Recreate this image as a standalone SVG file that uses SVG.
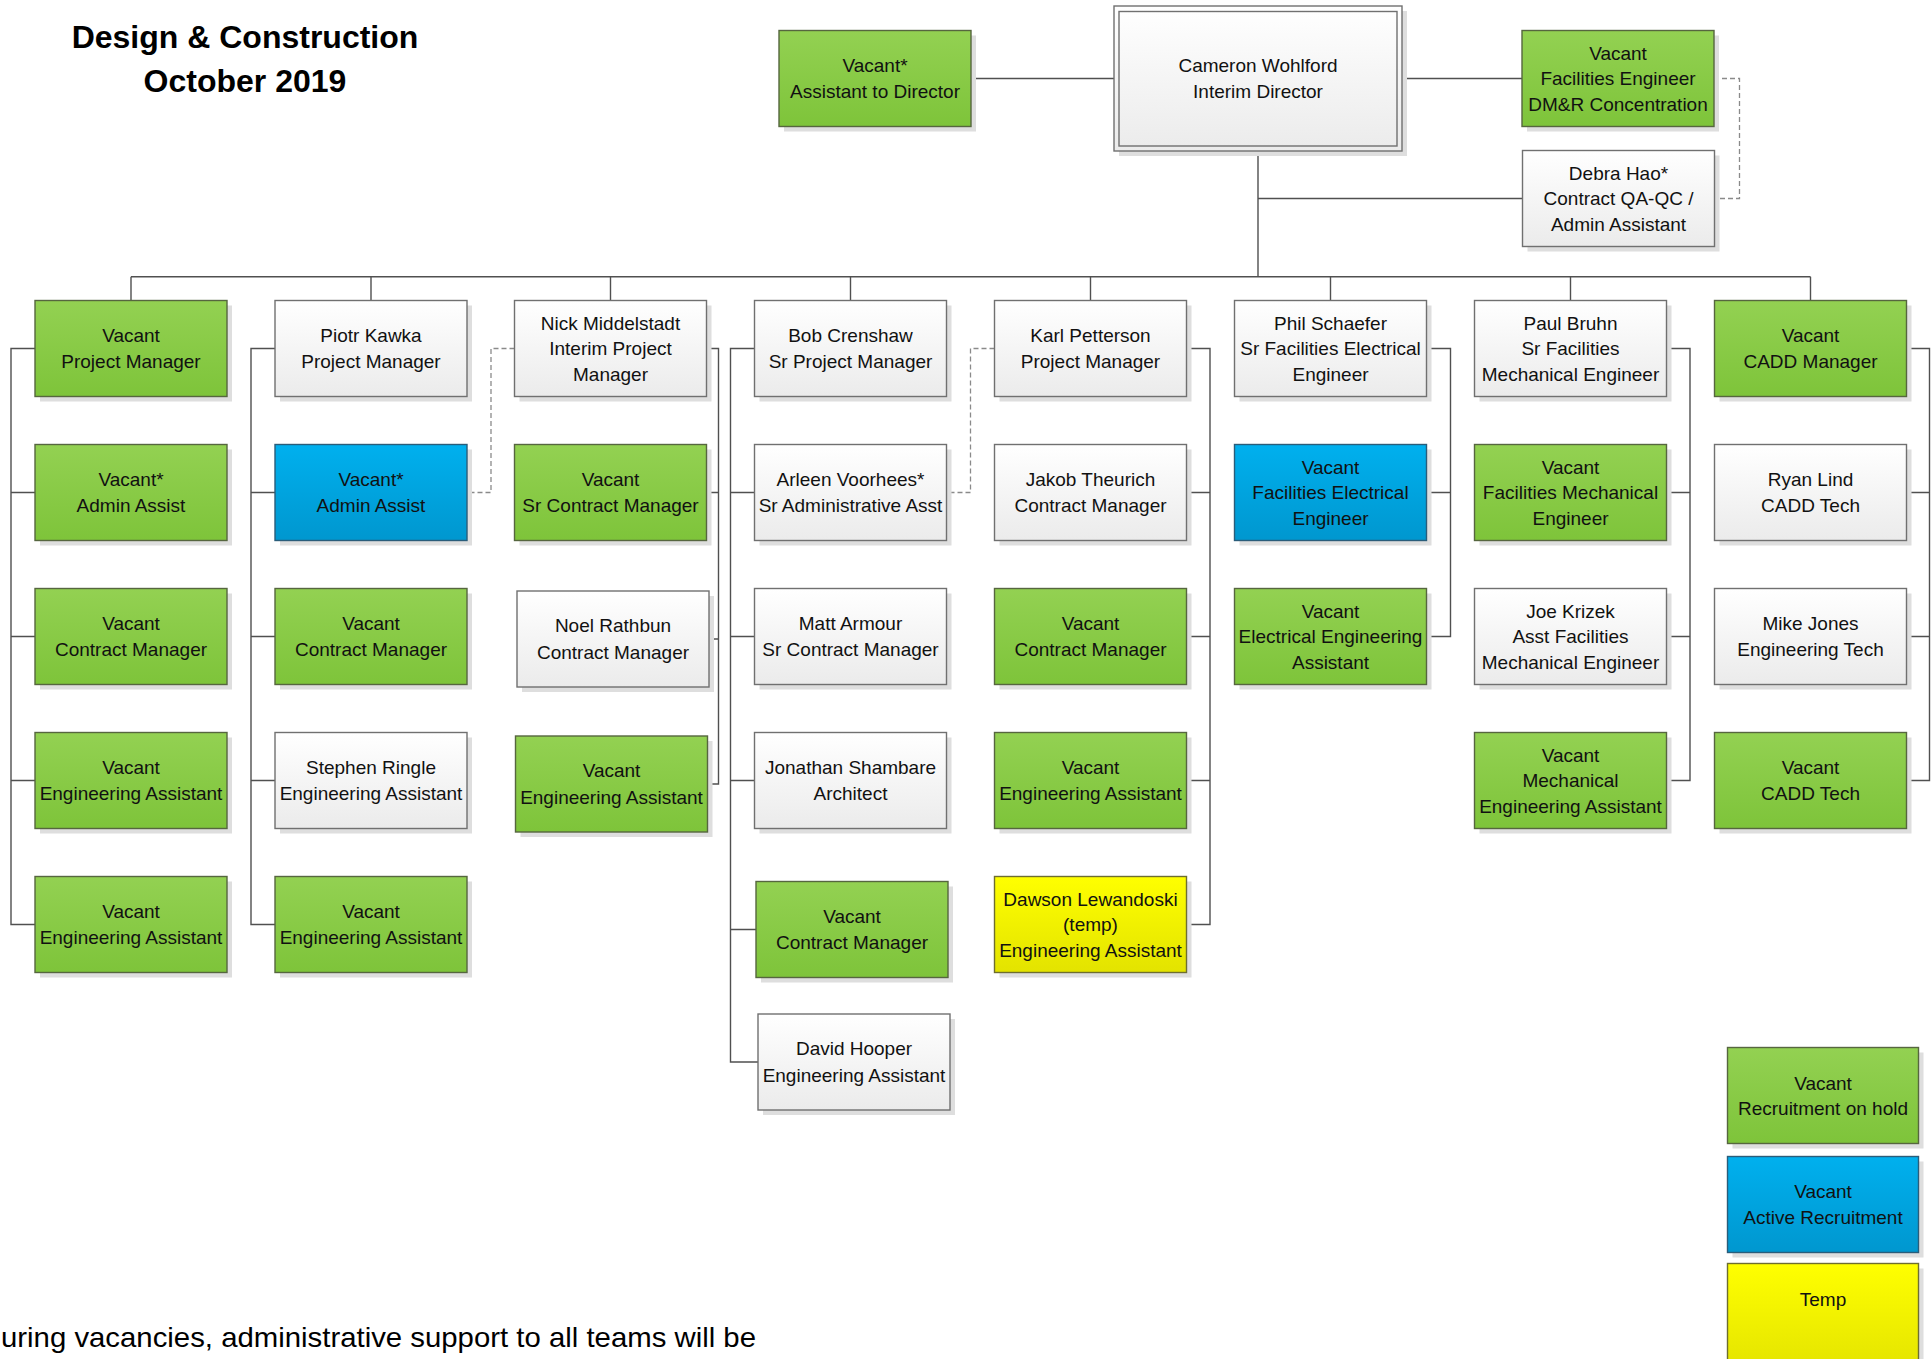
<svg xmlns="http://www.w3.org/2000/svg" width="1932" height="1359" viewBox="0 0 1932 1359">
<defs>
<linearGradient id="gW" x1="0" y1="0" x2="0" y2="1"><stop offset="0" stop-color="#ffffff"/><stop offset="1" stop-color="#ebebeb"/></linearGradient>
<linearGradient id="gG" x1="0" y1="0" x2="0" y2="1"><stop offset="0" stop-color="#93d152"/><stop offset="1" stop-color="#7ec43a"/></linearGradient>
<linearGradient id="gB" x1="0" y1="0" x2="0" y2="1"><stop offset="0" stop-color="#00b0ee"/><stop offset="1" stop-color="#0097cf"/></linearGradient>
<linearGradient id="gY" x1="0" y1="0" x2="0" y2="1"><stop offset="0" stop-color="#ffff00"/><stop offset="1" stop-color="#e3e300"/></linearGradient>
<style>
.sh{fill:#dedede}
.w{fill:url(#gW);stroke:#707070;stroke-width:1.4}
.g{fill:url(#gG);stroke:#56663f;stroke-width:1.4}
.b{fill:url(#gB);stroke:#2a5d7a;stroke-width:1.4}
.y{fill:url(#gY);stroke:#6e6e30;stroke-width:1.4}
.t{font-family:"Liberation Sans",Arial,sans-serif;font-size:19px;fill:#111;text-anchor:middle}
.ttl{font-family:"Liberation Sans",Arial,sans-serif;font-size:32px;font-weight:bold;fill:#000;text-anchor:middle}
.note{font-family:"Liberation Sans",Arial,sans-serif;font-size:28px;fill:#000}
.conn{fill:none;stroke:#505050;stroke-width:1.4}
.dash{fill:none;stroke:#8a8a8a;stroke-width:1.3;stroke-dasharray:5 3}
</style>
</defs>
<rect width="1932" height="1359" fill="#ffffff"/>

<g id="title">
<text class="ttl" x="245" y="48">Design &amp; Construction</text>
<text class="ttl" x="245" y="92">October 2019</text>
</g>

<g id="connectors">
<path class="conn" d="M971 78.5H1114M1402 78.5H1522M1258 151V276.7M1258 198.5H1522.5M131 276.7H1810.5"/>
<path class="conn" d="M131 276.7V300.5M371 276.7V300.5M610.5 276.7V300.5M850.5 276.7V300.5M1090.5 276.7V300.5M1330.5 276.7V300.5M1570.5 276.7V300.5M1810.5 276.7V300.5"/>
<path class="dash" d="M1714 78.5H1739.5V198.5H1714.5"/>
<path class="conn" d="M35 348.5H11V924.5H35M11 492.5H35M11 636.5H35M11 780.5H35"/>
<path class="conn" d="M275 348.5H251V924.5H275M251 492.5H275M251 636.5H275M251 780.5H275"/>
<path class="conn" d="M706.5 348.5H718.5V784H707.5M718.5 492.5H706.5M718.5 639H709"/>
<path class="dash" d="M514.5 348.5H491V492.5H467"/>
<path class="conn" d="M754.5 348.5H730.5V1062H758M730.5 492.5H754.5M730.5 636.5H754.5M730.5 780.5H754.5M730.5 929.5H756"/>
<path class="conn" d="M1186.5 348.5H1210V924.5H1186.5M1210 492.5H1186.5M1210 636.5H1186.5M1210 780.5H1186.5"/>
<path class="dash" d="M994.5 348.5H970.5V492.5H946.5"/>
<path class="conn" d="M1426.5 348.5H1450.5V636.5H1426.5M1450.5 492.5H1426.5"/>
<path class="conn" d="M1666.5 348.5H1690V780.5H1666.5M1690 492.5H1666.5M1690 636.5H1666.5"/>
<path class="conn" d="M1906.5 348.5H1929.5V780.5H1906.5M1929.5 492.5H1906.5M1929.5 636.5H1906.5"/>
</g>

<g id="n-assistant-director"><rect class="sh" x="784" y="35.5" width="192" height="96"/><rect class="g" x="779" y="30.5" width="192" height="96"/><text class="t" x="875" y="71.7">Vacant*</text><text class="t" x="875" y="98.2">Assistant to Director</text></g>
<g id="n-director"><rect class="sh" x="1119" y="11" width="288" height="145"/><rect class="w" x="1114" y="6" width="288" height="145"/><rect fill="none" stroke="#707070" stroke-width="1.4" x="1119" y="11.5" width="278" height="134.5"/><text class="t" x="1258" y="71.7">Cameron Wohlford</text><text class="t" x="1258" y="98.2">Interim Director</text></g>
<g id="n-facilities-engineer"><rect class="sh" x="1527" y="35.5" width="192" height="96"/><rect class="g" x="1522" y="30.5" width="192" height="96"/><text class="t" x="1618" y="59.5">Vacant</text><text class="t" x="1618" y="85">Facilities Engineer</text><text class="t" x="1618" y="110.5">DM&amp;R Concentration</text></g>
<g id="n-debra"><rect class="sh" x="1527.5" y="155.5" width="192" height="96"/><rect class="w" x="1522.5" y="150.5" width="192" height="96"/><text class="t" x="1618.5" y="179.5">Debra Hao*</text><text class="t" x="1618.5" y="205">Contract QA-QC /</text><text class="t" x="1618.5" y="230.5">Admin Assistant</text></g>

<!-- Column 1 -->
<g id="n-c1r1"><rect class="sh" x="40" y="305.5" width="192" height="96"/><rect class="g" x="35" y="300.5" width="192" height="96"/><text class="t" x="131" y="341.7">Vacant</text><text class="t" x="131" y="368.2">Project Manager</text></g>
<g id="n-c1r2"><rect class="sh" x="40" y="449.5" width="192" height="96"/><rect class="g" x="35" y="444.5" width="192" height="96"/><text class="t" x="131" y="485.7">Vacant*</text><text class="t" x="131" y="512.2">Admin Assist</text></g>
<g id="n-c1r3"><rect class="sh" x="40" y="593.5" width="192" height="96"/><rect class="g" x="35" y="588.5" width="192" height="96"/><text class="t" x="131" y="629.7">Vacant</text><text class="t" x="131" y="656.2">Contract Manager</text></g>
<g id="n-c1r4"><rect class="sh" x="40" y="737.5" width="192" height="96"/><rect class="g" x="35" y="732.5" width="192" height="96"/><text class="t" x="131" y="773.7">Vacant</text><text class="t" x="131" y="800.2">Engineering Assistant</text></g>
<g id="n-c1r5"><rect class="sh" x="40" y="881.5" width="192" height="96"/><rect class="g" x="35" y="876.5" width="192" height="96"/><text class="t" x="131" y="917.7">Vacant</text><text class="t" x="131" y="944.2">Engineering Assistant</text></g>

<!-- Column 2 -->
<g id="n-c2r1"><rect class="sh" x="280" y="305.5" width="192" height="96"/><rect class="w" x="275" y="300.5" width="192" height="96"/><text class="t" x="371" y="341.7">Piotr Kawka</text><text class="t" x="371" y="368.2">Project Manager</text></g>
<g id="n-c2r2"><rect class="sh" x="280" y="449.5" width="192" height="96"/><rect class="b" x="275" y="444.5" width="192" height="96"/><text class="t" x="371" y="485.7">Vacant*</text><text class="t" x="371" y="512.2">Admin Assist</text></g>
<g id="n-c2r3"><rect class="sh" x="280" y="593.5" width="192" height="96"/><rect class="g" x="275" y="588.5" width="192" height="96"/><text class="t" x="371" y="629.7">Vacant</text><text class="t" x="371" y="656.2">Contract Manager</text></g>
<g id="n-c2r4"><rect class="sh" x="280" y="737.5" width="192" height="96"/><rect class="w" x="275" y="732.5" width="192" height="96"/><text class="t" x="371" y="773.7">Stephen Ringle</text><text class="t" x="371" y="800.2">Engineering Assistant</text></g>
<g id="n-c2r5"><rect class="sh" x="280" y="881.5" width="192" height="96"/><rect class="g" x="275" y="876.5" width="192" height="96"/><text class="t" x="371" y="917.7">Vacant</text><text class="t" x="371" y="944.2">Engineering Assistant</text></g>

<!-- Column 3 -->
<g id="n-c3r1"><rect class="sh" x="519.5" y="305.5" width="192" height="96"/><rect class="w" x="514.5" y="300.5" width="192" height="96"/><text class="t" x="610.5" y="329.5">Nick Middelstadt</text><text class="t" x="610.5" y="355">Interim Project</text><text class="t" x="610.5" y="380.5">Manager</text></g>
<g id="n-c3r2"><rect class="sh" x="519.5" y="449.5" width="192" height="96"/><rect class="g" x="514.5" y="444.5" width="192" height="96"/><text class="t" x="610.5" y="485.7">Vacant</text><text class="t" x="610.5" y="512.2">Sr Contract Manager</text></g>
<g id="n-c3r3"><rect class="sh" x="522" y="596" width="192" height="96"/><rect class="w" x="517" y="591" width="192" height="96"/><text class="t" x="613" y="632.2">Noel Rathbun</text><text class="t" x="613" y="658.7">Contract Manager</text></g>
<g id="n-c3r4"><rect class="sh" x="520.5" y="741" width="192" height="96"/><rect class="g" x="515.5" y="736" width="192" height="96"/><text class="t" x="611.5" y="777.2">Vacant</text><text class="t" x="611.5" y="803.7">Engineering Assistant</text></g>

<!-- Column 4 -->
<g id="n-c4r1"><rect class="sh" x="759.5" y="305.5" width="192" height="96"/><rect class="w" x="754.5" y="300.5" width="192" height="96"/><text class="t" x="850.5" y="341.7">Bob Crenshaw</text><text class="t" x="850.5" y="368.2">Sr Project Manager</text></g>
<g id="n-c4r2"><rect class="sh" x="759.5" y="449.5" width="192" height="96"/><rect class="w" x="754.5" y="444.5" width="192" height="96"/><text class="t" x="850.5" y="485.7">Arleen Voorhees*</text><text class="t" x="850.5" y="512.2">Sr Administrative Asst</text></g>
<g id="n-c4r3"><rect class="sh" x="759.5" y="593.5" width="192" height="96"/><rect class="w" x="754.5" y="588.5" width="192" height="96"/><text class="t" x="850.5" y="629.7">Matt Armour</text><text class="t" x="850.5" y="656.2">Sr Contract Manager</text></g>
<g id="n-c4r4"><rect class="sh" x="759.5" y="737.5" width="192" height="96"/><rect class="w" x="754.5" y="732.5" width="192" height="96"/><text class="t" x="850.5" y="773.7">Jonathan Shambare</text><text class="t" x="850.5" y="800.2">Architect</text></g>
<g id="n-c4r5"><rect class="sh" x="761" y="886.5" width="192" height="96"/><rect class="g" x="756" y="881.5" width="192" height="96"/><text class="t" x="852" y="922.7">Vacant</text><text class="t" x="852" y="949.2">Contract Manager</text></g>
<g id="n-c4r6"><rect class="sh" x="763" y="1019" width="192" height="96"/><rect class="w" x="758" y="1014" width="192" height="96"/><text class="t" x="854" y="1055.2">David Hooper</text><text class="t" x="854" y="1081.7">Engineering Assistant</text></g>

<!-- Column 5 -->
<g id="n-c5r1"><rect class="sh" x="999.5" y="305.5" width="192" height="96"/><rect class="w" x="994.5" y="300.5" width="192" height="96"/><text class="t" x="1090.5" y="341.7">Karl Petterson</text><text class="t" x="1090.5" y="368.2">Project Manager</text></g>
<g id="n-c5r2"><rect class="sh" x="999.5" y="449.5" width="192" height="96"/><rect class="w" x="994.5" y="444.5" width="192" height="96"/><text class="t" x="1090.5" y="485.7">Jakob Theurich</text><text class="t" x="1090.5" y="512.2">Contract Manager</text></g>
<g id="n-c5r3"><rect class="sh" x="999.5" y="593.5" width="192" height="96"/><rect class="g" x="994.5" y="588.5" width="192" height="96"/><text class="t" x="1090.5" y="629.7">Vacant</text><text class="t" x="1090.5" y="656.2">Contract Manager</text></g>
<g id="n-c5r4"><rect class="sh" x="999.5" y="737.5" width="192" height="96"/><rect class="g" x="994.5" y="732.5" width="192" height="96"/><text class="t" x="1090.5" y="773.7">Vacant</text><text class="t" x="1090.5" y="800.2">Engineering Assistant</text></g>
<g id="n-c5r5"><rect class="sh" x="999.5" y="881.5" width="192" height="96"/><rect class="y" x="994.5" y="876.5" width="192" height="96"/><text class="t" x="1090.5" y="905.5">Dawson Lewandoski</text><text class="t" x="1090.5" y="931">(temp)</text><text class="t" x="1090.5" y="956.5">Engineering Assistant</text></g>

<!-- Column 6 -->
<g id="n-c6r1"><rect class="sh" x="1239.5" y="305.5" width="192" height="96"/><rect class="w" x="1234.5" y="300.5" width="192" height="96"/><text class="t" x="1330.5" y="329.5">Phil Schaefer</text><text class="t" x="1330.5" y="355">Sr Facilities Electrical</text><text class="t" x="1330.5" y="380.5">Engineer</text></g>
<g id="n-c6r2"><rect class="sh" x="1239.5" y="449.5" width="192" height="96"/><rect class="b" x="1234.5" y="444.5" width="192" height="96"/><text class="t" x="1330.5" y="473.5">Vacant</text><text class="t" x="1330.5" y="499">Facilities Electrical</text><text class="t" x="1330.5" y="524.5">Engineer</text></g>
<g id="n-c6r3"><rect class="sh" x="1239.5" y="593.5" width="192" height="96"/><rect class="g" x="1234.5" y="588.5" width="192" height="96"/><text class="t" x="1330.5" y="617.5">Vacant</text><text class="t" x="1330.5" y="643">Electrical Engineering</text><text class="t" x="1330.5" y="668.5">Assistant</text></g>

<!-- Column 7 -->
<g id="n-c7r1"><rect class="sh" x="1479.5" y="305.5" width="192" height="96"/><rect class="w" x="1474.5" y="300.5" width="192" height="96"/><text class="t" x="1570.5" y="329.5">Paul Bruhn</text><text class="t" x="1570.5" y="355">Sr Facilities</text><text class="t" x="1570.5" y="380.5">Mechanical Engineer</text></g>
<g id="n-c7r2"><rect class="sh" x="1479.5" y="449.5" width="192" height="96"/><rect class="g" x="1474.5" y="444.5" width="192" height="96"/><text class="t" x="1570.5" y="473.5">Vacant</text><text class="t" x="1570.5" y="499">Facilities Mechanical</text><text class="t" x="1570.5" y="524.5">Engineer</text></g>
<g id="n-c7r3"><rect class="sh" x="1479.5" y="593.5" width="192" height="96"/><rect class="w" x="1474.5" y="588.5" width="192" height="96"/><text class="t" x="1570.5" y="617.5">Joe Krizek</text><text class="t" x="1570.5" y="643">Asst Facilities</text><text class="t" x="1570.5" y="668.5">Mechanical Engineer</text></g>
<g id="n-c7r4"><rect class="sh" x="1479.5" y="737.5" width="192" height="96"/><rect class="g" x="1474.5" y="732.5" width="192" height="96"/><text class="t" x="1570.5" y="761.5">Vacant</text><text class="t" x="1570.5" y="787">Mechanical</text><text class="t" x="1570.5" y="812.5">Engineering Assistant</text></g>

<!-- Column 8 -->
<g id="n-c8r1"><rect class="sh" x="1719.5" y="305.5" width="192" height="96"/><rect class="g" x="1714.5" y="300.5" width="192" height="96"/><text class="t" x="1810.5" y="341.7">Vacant</text><text class="t" x="1810.5" y="368.2">CADD Manager</text></g>
<g id="n-c8r2"><rect class="sh" x="1719.5" y="449.5" width="192" height="96"/><rect class="w" x="1714.5" y="444.5" width="192" height="96"/><text class="t" x="1810.5" y="485.7">Ryan Lind</text><text class="t" x="1810.5" y="512.2">CADD Tech</text></g>
<g id="n-c8r3"><rect class="sh" x="1719.5" y="593.5" width="192" height="96"/><rect class="w" x="1714.5" y="588.5" width="192" height="96"/><text class="t" x="1810.5" y="629.7">Mike Jones</text><text class="t" x="1810.5" y="656.2">Engineering Tech</text></g>
<g id="n-c8r4"><rect class="sh" x="1719.5" y="737.5" width="192" height="96"/><rect class="g" x="1714.5" y="732.5" width="192" height="96"/><text class="t" x="1810.5" y="773.7">Vacant</text><text class="t" x="1810.5" y="800.2">CADD Tech</text></g>

<!-- Legend -->
<g id="legend-hold"><rect class="sh" x="1732.5" y="1052.5" width="191" height="96"/><rect class="g" x="1727.5" y="1047.5" width="191" height="96"/><text class="t" x="1823" y="1089.5">Vacant</text><text class="t" x="1823" y="1115">Recruitment on hold</text></g>
<g id="legend-active"><rect class="sh" x="1732.5" y="1161.5" width="191" height="96"/><rect class="b" x="1727.5" y="1156.5" width="191" height="96"/><text class="t" x="1823" y="1198.2">Vacant</text><text class="t" x="1823" y="1224.2">Active Recruitment</text></g>
<g id="legend-temp"><rect class="sh" x="1732.5" y="1268.5" width="191" height="110"/><rect class="y" x="1727.5" y="1263.5" width="191" height="110"/><text class="t" x="1823" y="1305.5">Temp</text></g>

<g id="note"><text class="note" x="1" y="1347" textLength="755" lengthAdjust="spacingAndGlyphs">uring vacancies, administrative support to all teams will be</text></g>
</svg>
